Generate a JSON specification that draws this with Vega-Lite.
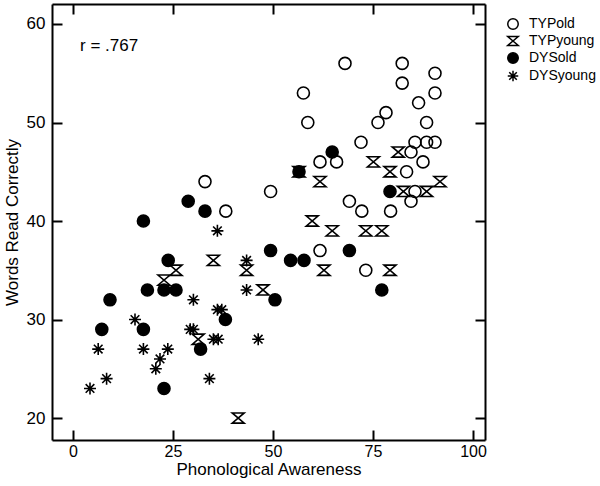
{
  "$schema": "https://vega.github.io/schema/vega-lite/v6.json",
  "width": 433,
  "height": 436,
  "autosize": {"type": "none"},
  "padding": {"left": 52, "top": 4, "right": 115, "bottom": 46},
  "config": {
    "font": "Liberation Sans",
    "view": {"stroke": null},
    "axis": {
      "grid": false,
      "domainColor": "black",
      "domainWidth": 2,
      "tickColor": "black",
      "tickWidth": 2,
      "tickSize": -10,
      "labelColor": "black",
      "titleColor": "black",
      "labelFont": "Liberation Sans",
      "titleFont": "Liberation Sans",
      "labelFontSize": 17,
      "titleFontSize": 17,
      "titleFontWeight": "normal"
    },
    "legend": {
      "title": null, "orient": "right", "offset": 7, "padding": 13,
      "labelFontSize": 14, "labelColor": "black", "labelFont": "Liberation Sans",
      "symbolSize": 110, "symbolStrokeWidth": 1.5, "symbolStrokeColor": "black",
      "rowPadding": 0, "labelOffset": 9
    }
  },
  "datasets": {
    "pts": [
      {"group": "TYPold", "pa": 33, "wrc": 44},
      {"group": "TYPold", "pa": 38.2, "wrc": 41},
      {"group": "TYPold", "pa": 49.4, "wrc": 43},
      {"group": "TYPold", "pa": 57.6, "wrc": 53},
      {"group": "TYPold", "pa": 58.7, "wrc": 50},
      {"group": "TYPold", "pa": 61.75, "wrc": 46},
      {"group": "TYPold", "pa": 65.9, "wrc": 46},
      {"group": "TYPold", "pa": 61.75, "wrc": 37},
      {"group": "TYPold", "pa": 68, "wrc": 56},
      {"group": "TYPold", "pa": 69.1, "wrc": 42},
      {"group": "TYPold", "pa": 72, "wrc": 48},
      {"group": "TYPold", "pa": 72.2, "wrc": 41},
      {"group": "TYPold", "pa": 73.2, "wrc": 35},
      {"group": "TYPold", "pa": 76.25, "wrc": 50},
      {"group": "TYPold", "pa": 78.25, "wrc": 51},
      {"group": "TYPold", "pa": 79.4, "wrc": 41},
      {"group": "TYPold", "pa": 82.3, "wrc": 56},
      {"group": "TYPold", "pa": 82.3, "wrc": 54},
      {"group": "TYPold", "pa": 83.4, "wrc": 45},
      {"group": "TYPold", "pa": 84.5, "wrc": 47},
      {"group": "TYPold", "pa": 84.5, "wrc": 42},
      {"group": "TYPold", "pa": 85.5, "wrc": 43},
      {"group": "TYPold", "pa": 85.5, "wrc": 48},
      {"group": "TYPold", "pa": 86.4, "wrc": 52},
      {"group": "TYPold", "pa": 87.5, "wrc": 46},
      {"group": "TYPold", "pa": 88.4, "wrc": 50},
      {"group": "TYPold", "pa": 88.4, "wrc": 48},
      {"group": "TYPold", "pa": 90.5, "wrc": 48},
      {"group": "TYPold", "pa": 90.5, "wrc": 55},
      {"group": "TYPold", "pa": 90.5, "wrc": 53},
      {"group": "TYPyoung", "pa": 22.75, "wrc": 34},
      {"group": "TYPyoung", "pa": 25.75, "wrc": 35},
      {"group": "TYPyoung", "pa": 35.1, "wrc": 36},
      {"group": "TYPyoung", "pa": 43.4, "wrc": 35},
      {"group": "TYPyoung", "pa": 47.5, "wrc": 33},
      {"group": "TYPyoung", "pa": 31.3, "wrc": 28},
      {"group": "TYPyoung", "pa": 41.3, "wrc": 20},
      {"group": "TYPyoung", "pa": 56.5, "wrc": 45},
      {"group": "TYPyoung", "pa": 59.8, "wrc": 40},
      {"group": "TYPyoung", "pa": 61.75, "wrc": 44},
      {"group": "TYPyoung", "pa": 62.75, "wrc": 35},
      {"group": "TYPyoung", "pa": 64.8, "wrc": 39},
      {"group": "TYPyoung", "pa": 73.2, "wrc": 39},
      {"group": "TYPyoung", "pa": 75.1, "wrc": 46},
      {"group": "TYPyoung", "pa": 77.2, "wrc": 39},
      {"group": "TYPyoung", "pa": 79.25, "wrc": 35},
      {"group": "TYPyoung", "pa": 79.25, "wrc": 45},
      {"group": "TYPyoung", "pa": 81.3, "wrc": 47},
      {"group": "TYPyoung", "pa": 82.6, "wrc": 43},
      {"group": "TYPyoung", "pa": 88.4, "wrc": 43},
      {"group": "TYPyoung", "pa": 91.75, "wrc": 44},
      {"group": "DYSold", "pa": 7.2, "wrc": 29},
      {"group": "DYSold", "pa": 9.25, "wrc": 32},
      {"group": "DYSold", "pa": 17.6, "wrc": 40},
      {"group": "DYSold", "pa": 17.6, "wrc": 29},
      {"group": "DYSold", "pa": 18.6, "wrc": 33},
      {"group": "DYSold", "pa": 22.75, "wrc": 33},
      {"group": "DYSold", "pa": 25.75, "wrc": 33},
      {"group": "DYSold", "pa": 23.8, "wrc": 36},
      {"group": "DYSold", "pa": 22.75, "wrc": 23},
      {"group": "DYSold", "pa": 28.8, "wrc": 42},
      {"group": "DYSold", "pa": 33, "wrc": 41},
      {"group": "DYSold", "pa": 31.9, "wrc": 27},
      {"group": "DYSold", "pa": 38.1, "wrc": 30},
      {"group": "DYSold", "pa": 49.4, "wrc": 37},
      {"group": "DYSold", "pa": 50.5, "wrc": 32},
      {"group": "DYSold", "pa": 54.4, "wrc": 36},
      {"group": "DYSold", "pa": 57.75, "wrc": 36},
      {"group": "DYSold", "pa": 56.5, "wrc": 45},
      {"group": "DYSold", "pa": 64.8, "wrc": 47},
      {"group": "DYSold", "pa": 69.1, "wrc": 37},
      {"group": "DYSold", "pa": 77.2, "wrc": 33},
      {"group": "DYSold", "pa": 79.25, "wrc": 43},
      {"group": "DYSyoung", "pa": 4.25, "wrc": 23},
      {"group": "DYSyoung", "pa": 6.3, "wrc": 27},
      {"group": "DYSyoung", "pa": 8.4, "wrc": 24},
      {"group": "DYSyoung", "pa": 15.5, "wrc": 30},
      {"group": "DYSyoung", "pa": 17.6, "wrc": 27},
      {"group": "DYSyoung", "pa": 20.7, "wrc": 25},
      {"group": "DYSyoung", "pa": 21.75, "wrc": 26},
      {"group": "DYSyoung", "pa": 23.7, "wrc": 27},
      {"group": "DYSyoung", "pa": 29.3, "wrc": 29},
      {"group": "DYSyoung", "pa": 30.1, "wrc": 29},
      {"group": "DYSyoung", "pa": 30.1, "wrc": 32},
      {"group": "DYSyoung", "pa": 34.1, "wrc": 24},
      {"group": "DYSyoung", "pa": 35.1, "wrc": 28},
      {"group": "DYSyoung", "pa": 36.3, "wrc": 28},
      {"group": "DYSyoung", "pa": 36.1, "wrc": 31},
      {"group": "DYSyoung", "pa": 37.2, "wrc": 31},
      {"group": "DYSyoung", "pa": 36.1, "wrc": 39},
      {"group": "DYSyoung", "pa": 43.4, "wrc": 36},
      {"group": "DYSyoung", "pa": 43.4, "wrc": 33},
      {"group": "DYSyoung", "pa": 46.3, "wrc": 28}
    ],
    "note": [{"label": "r = .767"}]
  },
  "layer": [
    {
      "data": {"name": "pts"},
      "mark": {"type": "point", "opacity": 1, "strokeWidth": 1.6, "size": 144},
      "encoding": {
        "x": {
          "field": "pa", "type": "quantitative",
          "scale": {"domain": [-5.25, 103], "nice": false, "zero": false},
          "axis": {"orient": "bottom", "values": [0, 25, 50, 75, 100], "title": "Phonological Awareness", "labelFontSize": 16, "labelPadding": 13, "titlePadding": 2}
        },
        "y": {
          "field": "wrc", "type": "quantitative",
          "scale": {"domain": [17.77, 62.03], "nice": false, "zero": false},
          "axis": {"orient": "left", "values": [20, 30, 40, 50, 60], "title": "Words Read Correctly", "labelPadding": 17, "titlePadding": 5}
        },
        "shape": {
          "field": "group", "type": "nominal",
          "scale": {
            "domain": ["TYPold", "TYPyoung", "DYSold", "DYSyoung"],
            "range": ["circle", "M-1,-0.85L1,-0.85L-1,0.85L1,0.85Z", "circle", "M0,-1V1M-1,0H1M-0.72,-0.72L0.72,0.72M-0.72,0.72L0.72,-0.72"]
          },
          "legend": {"title": null}
        },
        "fill": {
          "field": "group", "type": "nominal",
          "scale": {
            "domain": ["TYPold", "TYPyoung", "DYSold", "DYSyoung"],
            "range": ["transparent", "transparent", "black", "transparent"]
          },
          "legend": {"title": null}
        },
        "stroke": {
          "field": "group", "type": "nominal",
          "scale": {
            "domain": ["TYPold", "TYPyoung", "DYSold", "DYSyoung"],
            "range": ["black", "black", "black", "black"]
          },
          "legend": {"title": null}
        }
      }
    },
    {
      "data": {"name": "note"},
      "mark": {"type": "text", "align": "left", "baseline": "middle", "fontSize": 17, "font": "Liberation Sans", "color": "black"},
      "encoding": {
        "text": {"field": "label"},
        "x": {"datum": 1.75, "type": "quantitative", "axis": {"orient": "top", "values": [0, 25, 50, 75, 100], "labels": false, "title": null}},
        "y": {"datum": 57.8, "type": "quantitative", "axis": {"orient": "right", "values": [20, 30, 40, 50, 60], "labels": false, "title": null}}
      }
    }
  ],
  "resolve": {"axis": {"x": "independent", "y": "independent"}}
}
